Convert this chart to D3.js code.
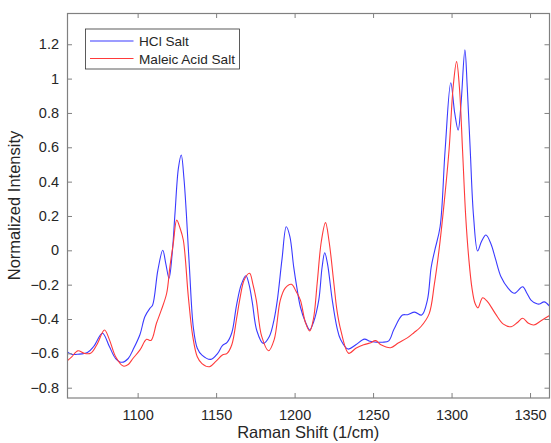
<!DOCTYPE html>
<html>
<head>
<meta charset="utf-8">
<script src="https://cdn.jsdelivr.net/npm/d3@7"></script>
<style>
  body { margin: 0; background: #fff; }
  text { font-family: Arial, "Liberation Sans", sans-serif; fill: #262626; }
</style>
</head>
<body>
<div class="graph"></div>
<script>
// data
var hclShift = [1055, 1058, 1062, 1068, 1072, 1077.6, 1082, 1086, 1090, 1094, 1097, 1101.5, 1104.6, 1107.8, 1109.5,
  1112.9, 1116, 1118, 1120, 1122, 1123.8, 1126, 1127.8, 1129.5, 1131, 1133, 1135.5, 1138, 1141, 1146.6, 1151,
  1154, 1157, 1160, 1163, 1166, 1169, 1171, 1173, 1176, 1180, 1184, 1187, 1189, 1192, 1194.7, 1197, 1199.4,
  1201.5, 1203.7, 1207, 1209.6, 1212, 1215.4, 1217.5, 1219.2, 1221, 1224, 1227, 1229.3, 1234, 1239, 1244.5,
  1248, 1252, 1256, 1260, 1263.3, 1268.7, 1272, 1276.5, 1281, 1284.6, 1287, 1289.3, 1292.7, 1295.9, 1299.5,
  1302, 1304.2, 1306, 1308.5, 1310, 1311.9, 1314, 1316.6, 1319, 1321.9, 1325, 1328, 1331.5, 1336, 1340,
  1345.3, 1348, 1350.6, 1354, 1356, 1359, 1362.4];
var hclIntensity = [-0.59, -0.605, -0.605, -0.595, -0.56, -0.483, -0.56, -0.63, -0.652, -0.63, -0.58, -0.49, -0.387, -0.338, -0.32,
  -0.115, 0, -0.08, -0.163, -0.02, 0.215, 0.48, 0.555, 0.42, 0.22, -0.1, -0.45, -0.57, -0.61, -0.635, -0.6,
  -0.555, -0.536, -0.48, -0.32, -0.2, -0.148, -0.2, -0.3, -0.47, -0.542, -0.5, -0.4, -0.29, -0.05, 0.137, 0.08, -0.095,
  -0.22, -0.33, -0.42, -0.464, -0.42, -0.29, -0.1, -0.014, -0.08, -0.29, -0.45, -0.52, -0.575, -0.55, -0.517,
  -0.53, -0.535, -0.535, -0.527, -0.46, -0.377, -0.375, -0.36, -0.377, -0.29, -0.1, 0, 0.137, 0.584, 0.976,
  0.8, 0.70, 0.85, 1.167, 0.95, 0.584, 0.2, -0.004, 0.05, 0.089, 0.04, -0.05, -0.154, -0.22, -0.25,
  -0.212, -0.25, -0.29, -0.31, -0.313, -0.3, -0.325];

var maleicShift = [1055, 1058, 1062, 1066, 1070, 1074, 1078.9, 1082, 1086, 1090.8, 1094, 1097, 1101.5, 1105.7, 1108.5,
  1112, 1115, 1118.5, 1120.5, 1122.7, 1124.9, 1127, 1129.1, 1132.3, 1135.1, 1138, 1141, 1145.7, 1150, 1154,
  1157, 1160, 1163, 1165, 1168, 1171.3, 1173.5, 1175.6, 1179, 1183.4, 1187, 1190.9, 1194, 1198, 1201, 1203.7,
  1206.9, 1209.6, 1212, 1214.4, 1217, 1219.7, 1222, 1225, 1227, 1229.3, 1234.5, 1239, 1244, 1248, 1251.6,
  1255, 1261.2, 1266, 1271.8, 1276, 1280.4, 1285.7, 1289, 1292, 1295, 1298.4, 1301, 1303.2, 1305, 1307, 1309,
  1311, 1313, 1315, 1316.8, 1319.8, 1323, 1328, 1333, 1338, 1342, 1345.3, 1349, 1352.4, 1357, 1362.4];
var maleicIntensity = [-0.645, -0.62, -0.585, -0.6, -0.6, -0.55, -0.464, -0.52, -0.62, -0.674, -0.665, -0.63, -0.58, -0.518, -0.525,
  -0.425, -0.35, -0.25, -0.1, 0.04, 0.176, 0.13, 0.06, -0.27, -0.5, -0.62, -0.66, -0.678, -0.645, -0.61,
  -0.6, -0.55, -0.4, -0.29, -0.17, -0.134, -0.2, -0.29, -0.5, -0.585, -0.52, -0.29, -0.22, -0.198, -0.24, -0.29,
  -0.42, -0.47, -0.4, -0.19, 0.05, 0.161, 0.05, -0.19, -0.35, -0.46, -0.6, -0.57, -0.55, -0.54, -0.526,
  -0.55, -0.567, -0.54, -0.51, -0.48, -0.445, -0.37, -0.2, 0, 0.25, 0.584, 0.95, 1.099, 0.95, 0.584, 0.2,
  -0.05, -0.22, -0.31, -0.335, -0.276, -0.3, -0.37, -0.43, -0.445, -0.42, -0.396, -0.425, -0.435, -0.41, -0.38];

var seriesNames = ["HCl Salt", "Maleic Acid Salt"];
var seriesColors = ["#3a3aff", "#ff3a3a"];
var xTicks = [1100, 1150, 1200, 1250, 1300, 1350];
var yTicks = [-0.8, -0.6, -0.4, -0.2, 0, 0.2, 0.4, 0.6, 0.8, 1, 1.2];

var draw = function() {
  var W = 551, H = 443;
  var margin = {top: 13, right: 1.5, bottom: 45, left: 67},
      width = W - margin.left - margin.right,
      height = H - margin.top - margin.bottom;

  var x = d3.scaleLinear().domain([1055, 1362.4]).range([0, width]);
  var y = d3.scaleLinear().domain([-0.86, 1.382]).range([height, 0]);

  var svg = d3.select("div.graph").append("svg")
      .attr("width", W)
      .attr("height", H)
    .append("g")
      .attr("transform", "translate(" + margin.left + "," + margin.top + ")");

  svg.append("clipPath").attr("id", "clip")
    .append("rect").attr("width", width).attr("height", height);

  var series = [
    {name: seriesNames[0], color: seriesColors[0], xs: hclShift, ys: hclIntensity},
    {name: seriesNames[1], color: seriesColors[1], xs: maleicShift, ys: maleicIntensity}
  ];

  var line = d3.line()
      .x(function(d) { return x(d[0]); })
      .y(function(d) { return y(d[1]); })
      .curve(d3.curveCatmullRom.alpha(0.5));

  series.forEach(function(s) {
    var pts = s.xs.map(function(v, i) { return [v, s.ys[i]]; });
    svg.append("path")
      .attr("clip-path", "url(#clip)")
      .attr("d", line(pts))
      .attr("fill", "none")
      .attr("stroke", s.color)
      .attr("stroke-width", 1.1);
  });

  // axes, MATLAB style box with inward ticks
  var fmt = function(d) { return d3.format("")(+d.toFixed(1)); };
  function styleAxis(g) {
    g.select(".domain").remove();
    g.selectAll(".tick line").attr("stroke", "#808080");
    g.selectAll(".tick text").attr("font-size", "14.5px").attr("fill", "#262626")
      .style("font-family", "Arial, 'Liberation Sans', sans-serif");
  }

  svg.append("g")
      .attr("transform", "translate(0," + height + ")")
      .call(d3.axisBottom(x).tickValues(xTicks).tickSizeInner(-5).tickSizeOuter(0).tickPadding(12).tickFormat(d3.format("d")))
      .call(styleAxis);
  svg.append("g")
      .call(d3.axisTop(x).tickValues(xTicks).tickSizeInner(-5).tickSizeOuter(0).tickFormat(""))
      .call(styleAxis);
  svg.append("g")
      .call(d3.axisLeft(y).tickValues(yTicks).tickSizeInner(-5).tickSizeOuter(0).tickPadding(8).tickFormat(fmt))
      .call(styleAxis);
  svg.append("g")
      .attr("transform", "translate(" + width + ",0)")
      .call(d3.axisRight(y).tickValues(yTicks).tickSizeInner(-5).tickSizeOuter(0).tickFormat(""))
      .call(styleAxis);

  svg.append("rect")
      .attr("x", 0.5).attr("y", 0.5)
      .attr("width", width - 0.5).attr("height", height - 0.5)
      .attr("fill", "none")
      .attr("stroke", "#808080")
      .attr("stroke-width", 1.2);

  // axis labels
  svg.append("text")
      .attr("x", width / 2)
      .attr("y", height + 40)
      .attr("text-anchor", "middle")
      .attr("font-size", "16.5px")
      .text("Raman Shift (1/cm)");
  svg.append("text")
      .attr("transform", "translate(" + (-47) + "," + (height / 2) + ") rotate(-90)")
      .attr("text-anchor", "middle")
      .attr("font-size", "16.5px")
      .text("Normalized Intensity");

  // legend
  var lg = svg.append("g").attr("transform", "translate(" + (85.5 - margin.left) + "," + (29 - margin.top) + ")");
  lg.append("rect")
      .attr("width", 154).attr("height", 40)
      .attr("fill", "#fff")
      .attr("stroke", "#333")
      .attr("stroke-width", 0.8);
  series.forEach(function(s, i) {
    var yy = 12 + i * 17.5;
    lg.append("line")
      .attr("x1", 4.5).attr("x2", 48)
      .attr("y1", yy).attr("y2", yy)
      .attr("stroke", s.color)
      .attr("stroke-width", 1.1);
    lg.append("text")
      .attr("x", 53.5).attr("y", yy + 5)
      .attr("font-size", "13.6px")
      .attr("fill", "#000")
      .text(s.name);
  });
};

draw();
</script>
</body>
</html>
